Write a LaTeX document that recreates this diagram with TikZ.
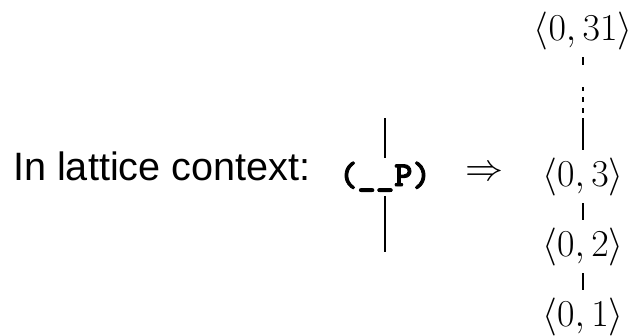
\RequirePackage{fix-cm}
\documentclass[tikz,border=0pt]{standalone}
\usepackage[no-math]{fontspec}
\usepackage{tikz}
\newfontfamily\leadfont{Liberation Sans}
\newfontfamily\termfont{lmmonolt10-bold.otf}[FakeBold=2.5]
\tikzset{
  leadtext/.style={font=\leadfont\fontsize{39.6}{44}\selectfont, inner sep=0pt, anchor=base west},
  term/.style={font=\termfont\fontsize{35}{38}\selectfont, inner sep=4pt, anchor=base},
  elem/.style={font=\fontsize{38}{42}\selectfont, inner sep=7.5pt, anchor=base},
  order/.style={line width=2.2pt},
  % tick, three dots, then the rest of the chain
  elided/.style={order, dash pattern=on 8pt off 22pt on 4pt off 6pt on 5pt off 6pt on 5pt off 5pt on 40pt},
}

\begin{document}
\begin{tikzpicture}[x=1pt, y=-1pt]
    \useasboundingbox (0,0) rectangle (636,335);
    \node[leadtext] (ctx) at (13,180) {In lattice context:};
    \node[term] (hole) at (385,186) {(\_\_P)};
    \coordinate (up) at (385,118);
    \coordinate (down) at (385,252);
    \draw[order] (up) -- (hole.north);
    \draw[order] (hole.south) -- (down);
    \node[elem, inner sep=0pt] (to) at (484,180) {$\Rightarrow$};
    \node[elem] (e31) at (583,40) {$\langle 0,31\rangle$};
    \node[elem] (e3) at (583,186) {$\langle 0,3\rangle$};
    \node[elem] (e2) at (583,256) {$\langle 0,2\rangle$};
    \node[elem] (e1) at (583,326) {$\langle 0,1\rangle$};
    \draw[elided] (e31) -- (e3);
    \draw[order] (e3) -- (e2);
    \draw[order] (e2) -- (e1);
\end{tikzpicture}
\end{document}
